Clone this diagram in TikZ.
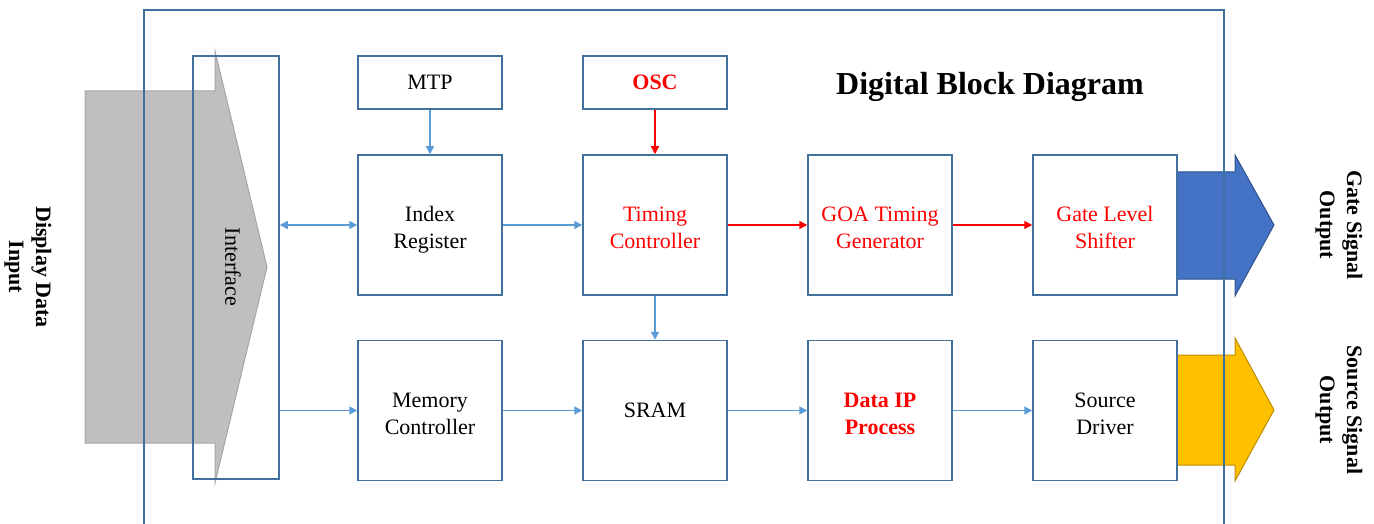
\documentclass[tikz,border=0pt]{standalone}
\usepackage{fontspec}
\setmainfont{Liberation Serif}
\usetikzlibrary{arrows.meta}
\definecolor{frameblue}{HTML}{41719C}
\definecolor{lineblue}{HTML}{5B9BD5}
\definecolor{gatefill}{HTML}{4472C4}
\definecolor{gateedge}{HTML}{2F528F}
\definecolor{srcfill}{HTML}{FFC000}
\definecolor{srcedge}{HTML}{BC8C00}
\definecolor{grayfill}{HTML}{BFBFBF}
\definecolor{grayedge}{HTML}{A6A6A6}
\definecolor{txtred}{HTML}{FF0000}
\newcommand{\twoline}[2]{\raisebox{-5pt}[\height][\depth]{\begin{tabular}{@{}c@{}}#1\\#2\end{tabular}}}
\tikzset{
  blk/.style={draw=frameblue, line width=1.5pt, rectangle, fill=white, minimum width=144pt, minimum height=140pt, inner sep=0pt, font=\fontsize{22}{27}\selectfont},
  topblk/.style={blk, minimum height=53pt},
  redtxt/.style={text=txtred},
  conn/.style={draw=lineblue, line width=1.5pt, -{Triangle[length=8pt,width=8pt]}},
  bconn/.style={draw=lineblue, line width=1.5pt, {Triangle[length=8pt,width=8pt]}-{Triangle[length=8pt,width=8pt]}},
  rconn/.style={draw=txtred, line width=1.5pt, -{Triangle[length=8pt,width=8pt]}},
  sidetxt/.style={rotate=-90, align=center, font=\fontsize{22}{27}\selectfont\bfseries},
}
\begin{document}
\begin{tikzpicture}[x=1pt,y=-1pt]
\useasboundingbox (0,0) rectangle (1374,524);
% big grey input arrow
\draw[fill=grayfill, draw=grayedge, line width=1pt] (85,91) -- (215,91) -- (215,51) -- (267,267) -- (215,483) -- (215,443) -- (85,443) -- cycle;
% output arrows
\draw[fill=gatefill, draw=gateedge, line width=1pt] (1177,172) -- (1235,172) -- (1235,155) -- (1274,225) -- (1235,296) -- (1235,279) -- (1177,279) -- cycle;
\draw[fill=srcfill, draw=srcedge, line width=1pt] (1177,355) -- (1235,355) -- (1235,338) -- (1274,410) -- (1235,481) -- (1235,465) -- (1177,465) -- cycle;
% interface box
\node[draw=frameblue, line width=1.5pt, rectangle, minimum width=86pt, minimum height=423pt, inner sep=0pt] (iface) at (236,267.5) {};
\node[rotate=-90, font=\fontsize{22}{27}\selectfont] (ifacetxt) at (233,267) {Interface};
% outer frame
\draw[frameblue, line width=1.5pt] (144,530) -- (144,10) -- (1224,10) -- (1224,530);
% title
\node[font=\fontsize{32}{38}\selectfont\bfseries, anchor=base] (title) at (990,95) {Digital Block Diagram};
% blocks
\node[topblk] (mtp) at (430,82.5) {MTP};
\node[topblk, redtxt, font=\fontsize{22}{27}\selectfont\bfseries] (osc) at (655,82.5) {OSC};
\node[blk] (idx) at (430,225) {\twoline{Index}{Register}};
\node[blk, redtxt] (tcon) at (655,225) {\twoline{Timing}{Controller}};
\node[blk, redtxt] (goa) at (880,225) {\twoline{GOA Timing}{Generator}};
\node[blk, redtxt] (gls) at (1105,225) {\twoline{Gate Level}{Shifter}};
\node[blk] (mem) at (430,410.5) {\twoline{Memory}{Controller}};
\node[blk] (sram) at (655,410.5) {SRAM};
\node[blk, redtxt, font=\fontsize{22}{27}\selectfont\bfseries] (dip) at (880,410.5) {\twoline{Data IP}{Process}};
\node[blk] (src) at (1105,410.5) {\twoline{Source}{Driver}};
% side labels
\node[sidetxt] (ddi) at (28,267) {Display Data\\Input};
\node[sidetxt] (gso) at (1339,225) {Gate Signal\\Output};
\node[sidetxt] (sso) at (1339,410) {Source Signal\\Output};
% connectors
\draw[conn] (mtp) -- (idx);
\draw[rconn] (osc) -- (tcon);
\draw[bconn] (iface.east |- idx.west) -- (idx.west);
\draw[conn] (iface.east |- mem.west) -- (mem.west);
\draw[conn] (idx) -- (tcon);
\draw[rconn] (tcon) -- (goa);
\draw[rconn] (goa) -- (gls);
\draw[conn] (tcon) -- (sram);
\draw[conn] (mem) -- (sram);
\draw[conn] (sram) -- (dip);
\draw[conn] (dip) -- (src);
\end{tikzpicture}
\end{document}
